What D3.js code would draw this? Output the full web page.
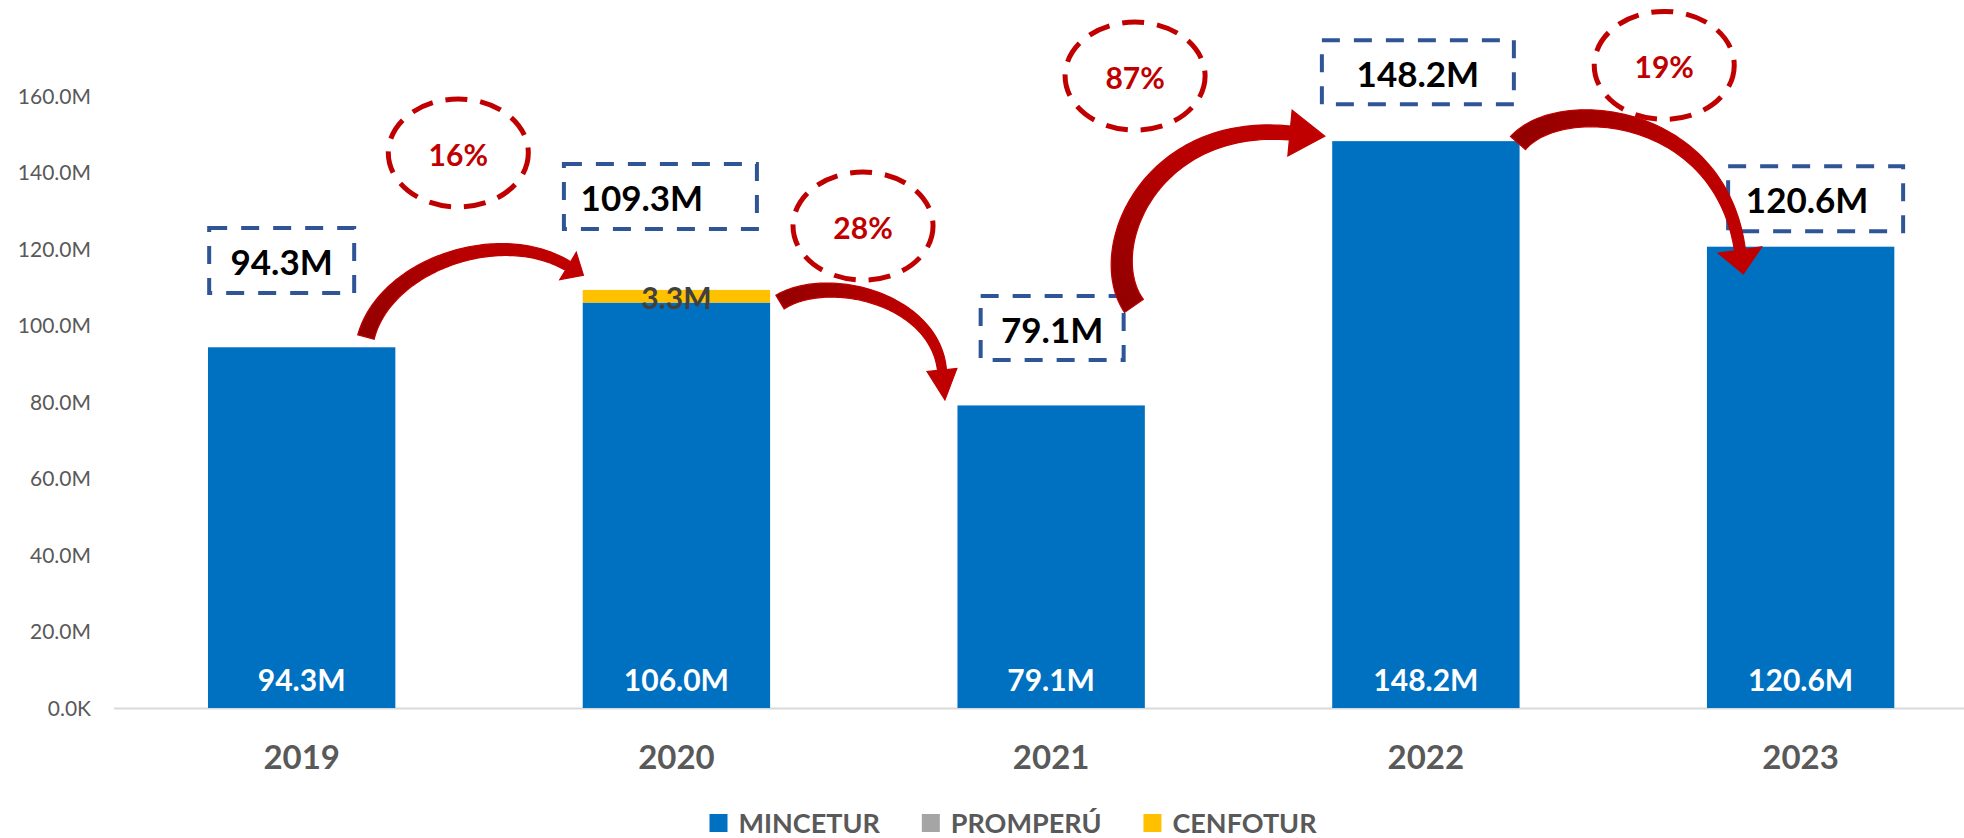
<!DOCTYPE html>
<html>
<head>
<meta charset="utf-8">
<script src="https://cdn.jsdelivr.net/npm/d3@7"></script>
<style>
  html, body { margin: 0; padding: 0; background: #ffffff; }
  svg { display: block; font-family: Lato, "Open Sans", sans-serif; }
</style>
</head>
<body>
<svg id="chart" width="1964" height="838"></svg>
<script>
// ---------------- DATA ----------------
const years = ["2019", "2020", "2021", "2022", "2023"];
const mincetur = [94.3, 106.0, 79.1, 148.2, 120.6];
const promperu = [0, 0, 0, 0, 0];
const cenfotur = [0, 3.3, 0, 0, 0];
const seriesNames = ["MINCETUR", "PROMPERÚ", "CENFOTUR"];
const yTicks = [0, 20, 40, 60, 80, 100, 120, 140, 160];
const yTickLabels = ["0.0K", "20.0M", "40.0M", "60.0M", "80.0M", "100.0M", "120.0M", "140.0M", "160.0M"];
const totalLabels = ["94.3M", "109.3M", "79.1M", "148.2M", "120.6M"];

// ---------------- STYLE / LAYOUT ----------------
const colors = { MINCETUR: "#0070C0", "PROMPERÚ": "#A5A5A5", CENFOTUR: "#FFC000" };
const W = 1964, H = 838;
const svg = d3.select("#chart");

const x = d3.scaleBand().domain(years).range([114.3, 1988]).paddingInner(0.5).paddingOuter(0.25);
const y = d3.scaleLinear().domain([0, 160]).range([708, 96]);
const bw = x.bandwidth();
const xc = i => x(years[i]) + bw / 2;
const xf = f => x(years[0]) + bw / 2 + f * x.step();

const totals = years.map((_, i) => mincetur[i] + promperu[i] + cenfotur[i]);

// stacked data
const rows = years.map((yr, i) => ({ year: yr, MINCETUR: mincetur[i], "PROMPERÚ": promperu[i], CENFOTUR: cenfotur[i] }));
const stack = d3.stack().keys(seriesNames)(rows);

// axis line
svg.append("line").attr("x1", 114).attr("x2", W).attr("y1", y(0) + 0.5).attr("y2", y(0) + 0.5)
  .attr("stroke", "#D9D9D9").attr("stroke-width", 2);

// y tick labels
svg.append("g").selectAll("text").data(yTicks).join("text")
  .attr("x", 91).attr("y", d => y(d)).attr("dy", "0.36em")
  .attr("text-anchor", "end").attr("font-size", 21).attr("fill", "#595959")
  .text((d, i) => yTickLabels[i]);

// bars
svg.append("g").selectAll("g").data(stack).join("g")
  .attr("fill", d => colors[d.key])
  .selectAll("rect").data(d => d.filter(s => s[1] - s[0] > 0)).join("rect")
  .attr("x", d => x(d.data.year)).attr("width", bw)
  .attr("y", d => y(d[1])).attr("height", d => y(d[0]) - y(d[1]));

// x labels
svg.append("g").selectAll("text").data(years).join("text")
  .attr("x", d => x(d) + bw / 2).attr("y", 757).attr("dy", "0.36em")
  .attr("text-anchor", "middle").attr("font-size", 33).attr("font-weight", "bold").attr("fill", "#595959")
  .text(d => d);

// in-bar labels (MINCETUR)
svg.append("g").selectAll("text").data(mincetur).join("text")
  .attr("x", (d, i) => xc(i)).attr("y", y(0) - 28).attr("dy", "0.36em")
  .attr("text-anchor", "middle").attr("font-size", 30).attr("font-weight", "bold").attr("fill", "#ffffff")
  .text(d => d.toFixed(1) + "M");

// CENFOTUR label
svg.append("g").selectAll("text").data(cenfotur.map((v, i) => ({ v, i })).filter(d => d.v > 0)).join("text")
  .attr("x", d => xc(d.i)).attr("y", d => y(mincetur[d.i] + d.v / 2) + 2).attr("dy", "0.36em")
  .attr("text-anchor", "middle").attr("font-size", 30).attr("font-weight", "bold").attr("fill", "#404040")
  .text(d => d.v.toFixed(1) + "M");

// ---------------- ANNOTATIONS ----------------
// dashed total boxes (offsets relative to bar top)
const boxLayout = [
  { dx: -20, dy: 86.8, w: 145, h: 65, tdx: 0 },
  { dx: -16, dy: 93.4, w: 193, h: 65, tdx: -18.5 },
  { dx: 1, dy: 77.5, w: 143, h: 64, tdx: 0 },
  { dx: -8, dy: 69, w: 192, h: 64, tdx: 0 },
  { dx: 15, dy: 48, w: 175, h: 65, tdx: -8.5 }
];
const boxes = svg.append("g");
totals.forEach((t, i) => {
  const L = boxLayout[i];
  const cx = xc(i) + L.dx, cy = y(t) - L.dy;
  boxes.append("rect").attr("x", cx - L.w / 2).attr("y", cy - L.h / 2).attr("width", L.w).attr("height", L.h)
    .attr("fill", "none").attr("stroke", "#2F5597").attr("stroke-width", 4).attr("stroke-dasharray", "18,14");
  boxes.append("text").attr("x", cx + L.tdx).attr("y", cy + 2).attr("dy", "0.36em")
    .attr("text-anchor", "middle").attr("font-size", 35).attr("font-weight", "bold").attr("fill", "#000")
    .text(totalLabels[i]);
});

// percent-change ellipses (positions in category fraction / value units)
const ellLayout = [
  { f: 0.418, v: 145.1 },
  { f: 1.498, v: 126.0 },
  { f: 2.224, v: 165.2 },
  { f: 3.636, v: 168.0 }
];
const ells = svg.append("g");
ellLayout.forEach((e, i) => {
  const pct = Math.round(Math.abs(totals[i + 1] / totals[i] - 1) * 100) + "%";
  const cx = xf(e.f), cy = y(e.v);
  ells.append("ellipse").attr("cx", cx).attr("cy", cy).attr("rx", 70).attr("ry", 54)
    .attr("fill", "none").attr("stroke", "#C00000").attr("stroke-width", 5).attr("stroke-dasharray", "22,13");
  ells.append("text").attr("x", cx).attr("y", cy + 2).attr("dy", "0.36em")
    .attr("text-anchor", "middle").attr("font-size", 30).attr("font-weight", "bold").attr("fill", "#C00000")
    .text(pct);
});

// curved arrows (anchors relative to bar tops)
const arrowLayout = [
  { o0: [64.3, -10.3], c1: [19, -72], o3: [-108.4, -23.9], c2: [-68, -41], w0: 17, w1: 10, hl: 18, hw: 16 },
  { o0: [103.6, 12.1], c1: [50, -30], o3: [-109.2, -35.5], c2: [-7, -70], w0: 16, w1: 9, hl: 30, hw: 15 },
  { o0: [82.8, -99.5], c1: [-39, -56], o3: [-135.9, -8.1], c2: [-140, -13], w0: 23, w1: 14, hl: 35, hw: 23 },
  { o0: [92.1, 1.9], c1: [42, -48], o3: [-60.7, 3.3], c2: [-20, -140], w0: 20, w1: 11, hl: 24, hw: 22 }
];
const defs = svg.append("defs");
const arrows = svg.append("g");
function bez(P, t) {
  const u = 1 - t;
  return [
    u*u*u*P[0][0] + 3*u*u*t*P[1][0] + 3*u*t*t*P[2][0] + t*t*t*P[3][0],
    u*u*u*P[0][1] + 3*u*u*t*P[1][1] + 3*u*t*t*P[2][1] + t*t*t*P[3][1]
  ];
}
function bezD(P, t) {
  const u = 1 - t;
  return [
    3*u*u*(P[1][0]-P[0][0]) + 6*u*t*(P[2][0]-P[1][0]) + 3*t*t*(P[3][0]-P[2][0]),
    3*u*u*(P[1][1]-P[0][1]) + 6*u*t*(P[2][1]-P[1][1]) + 3*t*t*(P[3][1]-P[2][1])
  ];
}
arrowLayout.forEach((a, i) => {
  const A = [xc(i), y(totals[i])], B = [xc(i + 1), y(totals[i + 1])];
  const P0 = [A[0] + a.o0[0], A[1] + a.o0[1]];
  const P3 = [B[0] + a.o3[0], B[1] + a.o3[1]];
  const P1 = [P0[0] + a.c1[0], P0[1] + a.c1[1]];
  const P2 = [P3[0] + a.c2[0], P3[1] + a.c2[1]];
  const P = [P0, P1, P2, P3];
  const N = 80, left = [], right = [];
  for (let k = 0; k <= N; k++) {
    const t = k / N, p = bez(P, t), d = bezD(P, t);
    const len = Math.hypot(d[0], d[1]);
    const n = [-d[1] / len, d[0] / len];
    const w = a.w0 + (a.w1 - a.w0) * t;
    left.push([p[0] + n[0] * w / 2, p[1] + n[1] * w / 2]);
    right.push([p[0] - n[0] * w / 2, p[1] - n[1] * w / 2]);
  }
  const dE = bezD(P, 1), lE = Math.hypot(dE[0], dE[1]);
  const dir = [dE[0] / lE, dE[1] / lE], nE = [-dir[1], dir[0]];
  const barb1 = [P3[0] + nE[0] * a.hw, P3[1] + nE[1] * a.hw];
  const barb2 = [P3[0] - nE[0] * a.hw, P3[1] - nE[1] * a.hw];
  const tip = [P3[0] + dir[0] * a.hl, P3[1] + dir[1] * a.hl];
  const pts = left.concat([barb1, tip, barb2]).concat(right.slice().reverse());
  const gid = "ag" + i;
  const g = defs.append("linearGradient").attr("id", gid).attr("gradientUnits", "userSpaceOnUse")
    .attr("x1", P0[0]).attr("y1", P0[1]).attr("x2", P3[0]).attr("y2", P3[1]);
  g.append("stop").attr("offset", "0%").attr("stop-color", "#940000");
  g.append("stop").attr("offset", "55%").attr("stop-color", "#B80000");
  g.append("stop").attr("offset", "100%").attr("stop-color", "#C00000");
  arrows.append("path").attr("d", d3.line()(pts) + "Z")
    .attr("fill", `url(#${gid})`).attr("stroke", "#C00000").attr("stroke-width", 1.2).attr("stroke-linejoin", "miter");
});

// ---------------- LEGEND ----------------
const legend = svg.append("g");
let lx = 0;
seriesNames.forEach((name, i) => {
  const g = legend.append("g");
  g.append("rect").attr("x", 0).attr("y", -9).attr("width", 18).attr("height", 18).attr("fill", colors[name]);
  const t = g.append("text").attr("x", 29).attr("y", 0).attr("dy", "0.36em")
    .attr("font-size", 27).attr("font-weight", "bold").attr("fill", "#595959").text(name);
  const tw = t.node().getComputedTextLength();
  g.attr("transform", `translate(${lx},0)`);
  lx += 29 + tw + 42;
});
const legW = lx - 42;
legend.attr("transform", `translate(${1013 - legW / 2},823)`);
</script>
</body>
</html>
